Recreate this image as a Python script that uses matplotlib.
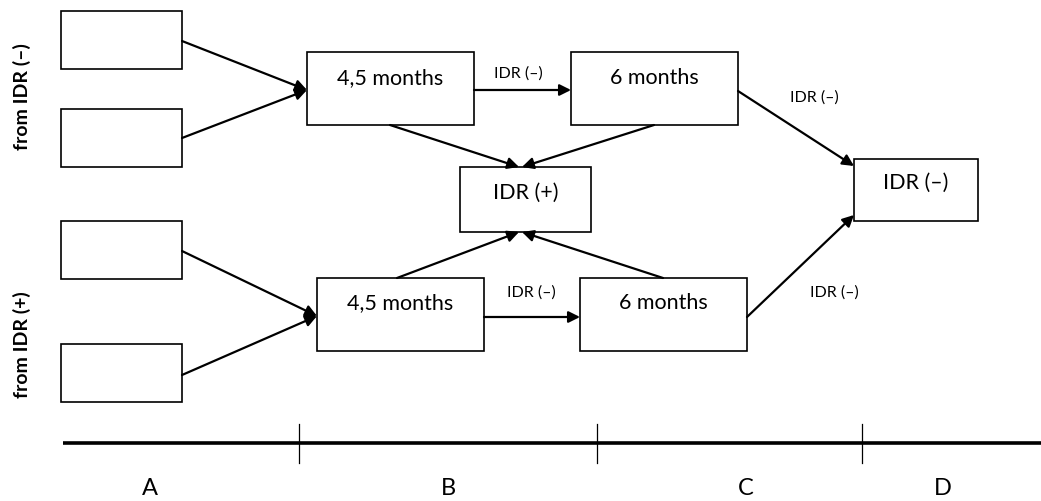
import matplotlib
matplotlib.use("Agg")
import matplotlib.pyplot as plt
from matplotlib.patches import Rectangle

# ---- content ----
box_labels = ["", "", "", "", "4,5 months", "6 months", "4,5 months", "6 months", "IDR (+)", "IDR (–)"]
edge_label = "IDR (–)"
period_labels = ["A", "B", "C", "D"]
group_labels = ["from IDR (–)", "from IDR (+)"]

# ---- layout (pixel coordinates, y downward) ----
boxes = [  # x0, y0, x1, y1
    (61, 12, 182, 70), (61, 110, 182, 168), (61, 222, 182, 280), (61, 345, 182, 403),
    (307, 53, 474, 126), (571, 53, 738, 126),
    (317, 279, 484, 352), (580, 279, 747, 352),
    (460, 168, 591, 233), (854, 160, 978, 222),
]
text_y_off = [0, 0, 0, 0, 25, 25, 24, 24, 25, 23]
arrows = [
    ((182, 42), (307, 91)), ((182, 139), (307, 91)),
    ((182, 252), (317, 317)), ((182, 376), (317, 317)),
    ((474, 91), (571, 91)), ((484, 318), (580, 318)),
    ((390, 126), (519, 168)), ((654, 126), (522, 168)),
    ((397, 279), (519, 233)), ((663, 279), (522, 233)),
    ((738, 92), (854, 167)), ((747, 318), (854, 216)),
]
edge_pos = [(518, 74), (531, 293), (814, 98), (834, 293)]
ticks_x = [299, 597, 862]
letters_x = [150, 448, 746, 943]

W, H = 1041, 502
fig = plt.figure(figsize=(W / 100, H / 100), dpi=100)
ax = fig.add_axes([0, 0, 1, 1])
ax.set_xlim(0, W)
ax.set_ylim(H, 0)
ax.axis("off")

font = "Lato"

for (x0, y0, x1, y1), lab, dy in zip(boxes, box_labels, text_y_off):
    ax.add_patch(Rectangle((x0, y0), x1 - x0, y1 - y0, fill=False, ec="black", lw=1.2))
    if lab:
        ax.text((x0 + x1) / 2, y0 + dy, lab, ha="center", va="center", fontsize=15.5,
                family=font, color="black")

for (s, e) in arrows:
    ax.annotate("", xy=e, xytext=s,
                arrowprops=dict(arrowstyle="-|>", color="black", lw=1.6,
                                mutation_scale=17, shrinkA=0, shrinkB=0))

for (x, y) in edge_pos:
    ax.text(x, y, edge_label, ha="center", va="center", fontsize=11.5, family=font)

ax.text(22, 97, group_labels[0], rotation=90, ha="center", va="center", fontsize=14,
        fontweight="bold", family=font)
ax.text(22, 345, group_labels[1], rotation=90, ha="center", va="center", fontsize=14,
        fontweight="bold", family=font)

ax.plot([63, W], [444, 444], color="black", lw=2.6, solid_capstyle="butt")
for x in ticks_x:
    ax.plot([x, x], [425, 464], color="black", lw=0.9)
for x, lab in zip(letters_x, period_labels):
    ax.text(x, 489, lab, ha="center", va="center", fontsize=17, family=font)

fig.savefig("out.png", dpi=100)
